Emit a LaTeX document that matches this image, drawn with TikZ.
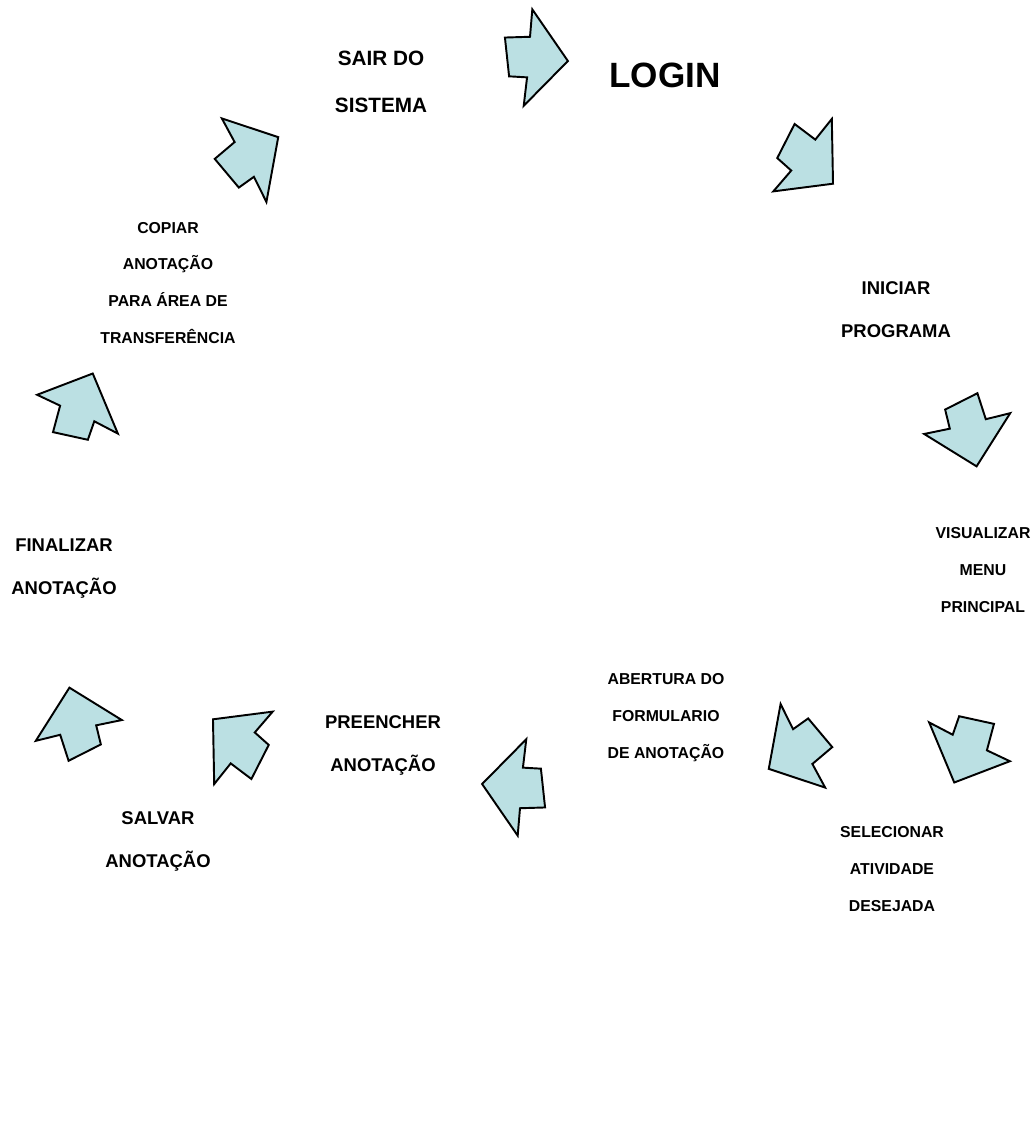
\documentclass[tikz,border=0pt]{standalone}
\usepackage{fontspec}
\setmainfont{Liberation Sans}
\definecolor{setafill}{RGB}{187,224,227}

\begin{document}
\begin{tikzpicture}[x=0.02cm, y=0.02cm, line join=miter,
  etapa/.style={align=center, inner sep=0pt, font=\bfseries\fontsize{9}{21}\selectfont},
  etapamed/.style={align=center, inner sep=0pt, font=\bfseries\fontsize{10.5}{24.5}\selectfont},
  etapagr/.style={align=center, inner sep=0pt, font=\bfseries\fontsize{11.8}{27}\selectfont},
  seta/.pic={\draw[draw=black, line width=1.1pt, fill=setafill]
    (-31,17) -- (-6,19) -- (-5,44) -- (33,-1) -- (-9,-44) -- (-7,-18) -- (-25,-18) -- cycle;}]

  \useasboundingbox (0,0) rectangle (1035,-1139);

  % etapas do ciclo
  \node[inner sep=0pt, font=\bfseries\fontsize{20}{24}\selectfont] (login) at (665,-75) {LOGIN};
  \node[etapamed] (iniciar) at (896,-310) {INICIAR\\PROGRAMA};
  \node[etapa] (visualizar) at (983,-570) {VISUALIZAR\\MENU\\PRINCIPAL};
  \node[etapa] (selecionar) at (892,-869) {SELECIONAR\\ATIVIDADE\\DESEJADA};
  \node[etapa] (abertura) at (666,-718) {ABERTURA DO\\FORMULARIO\\DE ANOTAÇÃO};
  \node[etapamed] (preencher) at (383,-745) {PREENCHER\\ANOTAÇÃO};
  \node[etapamed] (salvar) at (158,-841) {SALVAR\\ANOTAÇÃO};
  \node[etapamed] (finalizar) at (64,-569) {FINALIZAR\\ANOTAÇÃO};
  \node[etapa] (copiar) at (168,-283) {COPIAR\\ANOTAÇÃO\\PARA ÁREA DE\\TRANSFERÊNCIA};
  \node[etapagr] (sair) at (381,-82) {SAIR DO\\SISTEMA};

  % setas entre as etapas
  \foreach \x/\y/\a in {535/58/-3, 808/160/-39, 969/431/-75, 967/749/-111, 797/750/-147,
                        515/787/177, 238/743/141, 77/723/105, 80/407/69, 250/156/33}
    \pic[yscale=1.1, rotate=\a] at (\x,-\y) {seta};

\end{tikzpicture}
\end{document}
